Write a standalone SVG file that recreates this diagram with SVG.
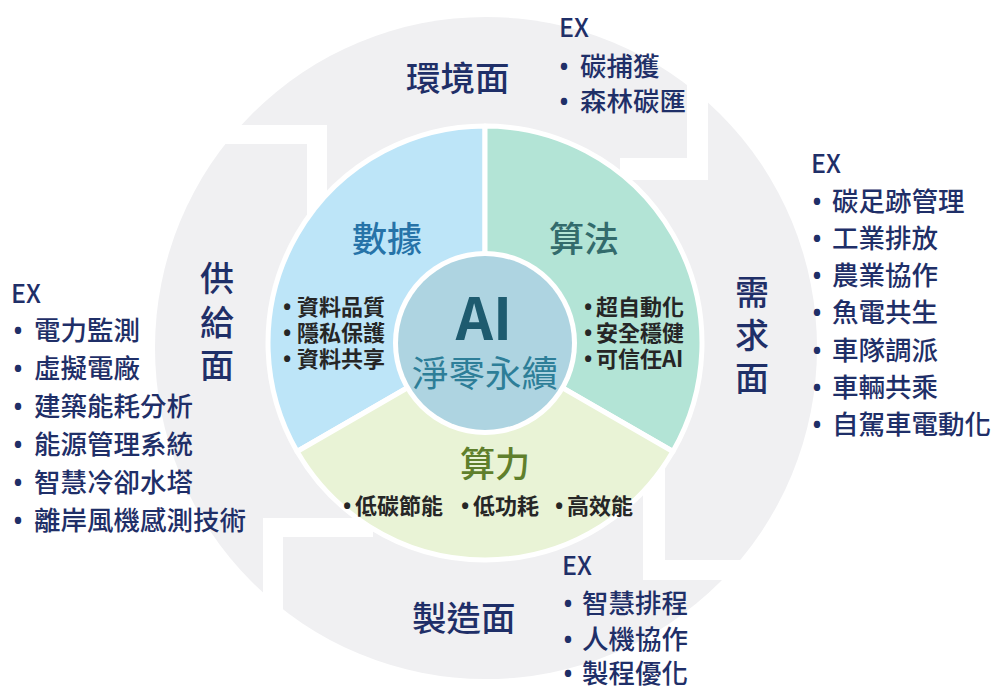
<svg xmlns="http://www.w3.org/2000/svg" width="996" height="691" viewBox="0 0 996 691">
  <style>
    text { font-family: "Noto Sans CJK TC", "Noto Sans", sans-serif; }
    .b { font-family: "Noto Sans", "Liberation Sans", sans-serif; }
    .ring { fill: #f0f0f2; }
    .gap { fill: #ffffff; }
    .sector { stroke: #ffffff; stroke-width: 5; stroke-linejoin: round; }
    .face { fill: #1f2f68; font-size: 34.5px; font-weight: 500; }
    .face-v { fill: #1f2f68; font-size: 34px; font-weight: 500; text-anchor: middle; }
    .ex { fill: #1f2f68; font-size: 25px; font-weight: 500; }
    .item { fill: #1f2f68; font-size: 26.5px; font-weight: 500; }
    .title { font-size: 35px; font-weight: 500; text-anchor: middle; }
    .pt { fill: #262626; font-size: 22px; font-weight: 700; }
  </style>

  <g id="outer-ring">
    <circle class="ring" cx="486" cy="348" r="331"/>
    <rect class="gap" x="200" y="125" width="127" height="19"/>
    <rect class="gap" x="307" y="125" width="20" height="95"/>
    <rect class="gap" x="687" y="50" width="21" height="130"/>
    <rect class="gap" x="620" y="158" width="88" height="22"/>
    <rect class="gap" x="643" y="450" width="22" height="130"/>
    <rect class="gap" x="643" y="560" width="200" height="20"/>
    <rect class="gap" x="263" y="518" width="110" height="19"/>
    <rect class="gap" x="263" y="518" width="20" height="120"/>
  </g>

  <g id="node-data">
    <path class="sector" fill="#bde5f8" d="M485,343 L485,126 A217,217 0 0 0 297.1,451.5 Z"/>
    <text class="title" x="387" y="252" fill="#2673a8">數據</text>
    <text class="pt"><tspan class="b" x="283" y="315">•</tspan><tspan x="297" y="315">資料品質</tspan></text>
    <text class="pt"><tspan class="b" x="283" y="341">•</tspan><tspan x="297" y="341">隱私保護</tspan></text>
    <text class="pt"><tspan class="b" x="283" y="367">•</tspan><tspan x="297" y="367">資料共享</tspan></text>
  </g>

  <g id="node-algorithm">
    <path class="sector" fill="#b3e4d6" d="M485,343 L485,126 A217,217 0 0 1 672.9,451.5 Z"/>
    <text class="title" x="584" y="252" fill="#336b6c">算法</text>
    <text class="pt"><tspan class="b" x="584" y="315">•</tspan><tspan x="596" y="315">超自動化</tspan></text>
    <text class="pt"><tspan class="b" x="584" y="341">•</tspan><tspan x="596" y="341">安全穩健</tspan></text>
    <text class="pt"><tspan class="b" x="584" y="367">•</tspan><tspan x="596" y="367">可信任AI</tspan></text>
  </g>

  <g id="node-compute">
    <path class="sector" fill="#e9f3d6" d="M485,343 L672.9,451.5 A217,217 0 0 1 297.1,451.5 Z"/>
    <text class="title" x="495" y="477" fill="#5f7f2c">算力</text>
    <text class="pt"><tspan class="b" x="343" y="514">•</tspan><tspan x="355" y="514">低碳節能</tspan></text>
    <text class="pt"><tspan class="b" x="461" y="514">•</tspan><tspan x="473" y="514">低功耗</tspan></text>
    <text class="pt"><tspan class="b" x="555" y="514">•</tspan><tspan x="567" y="514">高效能</tspan></text>
  </g>

  <g id="node-center">
    <circle cx="485" cy="343" r="92" fill="#ffffff"/>
    <circle cx="485" cy="343" r="87" fill="#aed4e1"/>
    <text x="484" y="340" text-anchor="middle" font-size="58" font-weight="700" fill="#1e5b6f">AI</text>
    <text x="485" y="387" text-anchor="middle" font-size="36.5" fill="#2d7e98">淨零永續</text>
  </g>

  <g id="node-environment">
    <text class="face" x="406" y="91">環境面</text>
    <text class="ex" x="559" y="37">EX</text>
    <text class="item"><tspan class="b" x="559" y="76">•</tspan><tspan x="580" y="76">碳捕獲</tspan></text>
    <text class="item"><tspan class="b" x="559" y="111">•</tspan><tspan x="580" y="111">森林碳匯</tspan></text>
  </g>

  <g id="node-demand">
    <text class="face-v" x="752" y="305">需</text>
    <text class="face-v" x="752" y="348">求</text>
    <text class="face-v" x="752" y="391">面</text>
    <text class="ex" x="811" y="173">EX</text>
    <text class="item"><tspan class="b" x="812" y="211">•</tspan><tspan x="832" y="211">碳足跡管理</tspan></text>
    <text class="item"><tspan class="b" x="812" y="248">•</tspan><tspan x="832" y="248">工業排放</tspan></text>
    <text class="item"><tspan class="b" x="812" y="285">•</tspan><tspan x="832" y="285">農業協作</tspan></text>
    <text class="item"><tspan class="b" x="812" y="322">•</tspan><tspan x="832" y="322">魚電共生</tspan></text>
    <text class="item"><tspan class="b" x="812" y="360">•</tspan><tspan x="832" y="360">車隊調派</tspan></text>
    <text class="item"><tspan class="b" x="812" y="397">•</tspan><tspan x="832" y="397">車輛共乘</tspan></text>
    <text class="item"><tspan class="b" x="812" y="434">•</tspan><tspan x="832" y="434">自駕車電動化</tspan></text>
  </g>

  <g id="node-supply">
    <text class="face-v" x="217" y="291">供</text>
    <text class="face-v" x="217" y="335">給</text>
    <text class="face-v" x="217" y="378">面</text>
    <text class="ex" x="11" y="303">EX</text>
    <text class="item"><tspan class="b" x="13" y="340">•</tspan><tspan x="34" y="340">電力監測</tspan></text>
    <text class="item"><tspan class="b" x="13" y="378">•</tspan><tspan x="34" y="378">虛擬電廠</tspan></text>
    <text class="item"><tspan class="b" x="13" y="416">•</tspan><tspan x="34" y="416">建築能耗分析</tspan></text>
    <text class="item"><tspan class="b" x="13" y="454">•</tspan><tspan x="34" y="454">能源管理系統</tspan></text>
    <text class="item"><tspan class="b" x="13" y="492">•</tspan><tspan x="34" y="492">智慧冷卻水塔</tspan></text>
    <text class="item"><tspan class="b" x="13" y="530">•</tspan><tspan x="34" y="530">離岸風機感測技術</tspan></text>
  </g>

  <g id="node-manufacturing">
    <text class="face" x="412" y="631">製造面</text>
    <text class="ex" x="562" y="575">EX</text>
    <text class="item"><tspan class="b" x="563" y="613">•</tspan><tspan x="582" y="613">智慧排程</tspan></text>
    <text class="item"><tspan class="b" x="563" y="649">•</tspan><tspan x="582" y="649">人機協作</tspan></text>
    <text class="item"><tspan class="b" x="563" y="683">•</tspan><tspan x="582" y="683">製程優化</tspan></text>
  </g>

  <g id="connectors"></g>
</svg>
